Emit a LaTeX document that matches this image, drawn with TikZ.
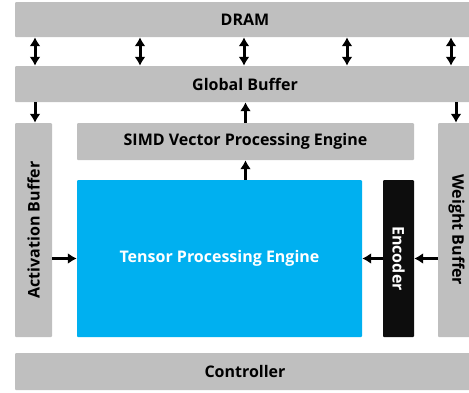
\documentclass[tikz,border=0pt]{standalone}
\usepackage{fontspec}
\setmainfont{Open Sans}
\usetikzlibrary{arrows.meta}
\definecolor{boxgray}{HTML}{BFBFBF}
\definecolor{tpecyan}{HTML}{00B0F0}
\definecolor{encblack}{HTML}{0D0D0D}
\tikzstyle{unit} = [fill=boxgray, rectangle, rounded corners=1pt, inner sep=0pt, font=\fontsize{16}{18}\selectfont\bfseries, text=black]
\tikzstyle{flow} = [line width=3pt, -{Latex[length=9pt,width=11pt]}]
\tikzstyle{bothway} = [line width=3pt, {Latex[length=9pt,width=11pt]}-{Latex[length=9pt,width=11pt]}]

\begin{document}
\begin{tikzpicture}[x=1pt, y=-1pt]
	\useasboundingbox (0,0) rectangle (469,392);
	\node [unit, minimum width=460pt, minimum height=35pt] (dram) at (245,19.5) {DRAM};
	\node [unit, minimum width=460pt, minimum height=36pt] (gbuf) at (245,84) {Global Buffer};
	\node [unit, minimum width=37pt, minimum height=214pt] (abuf) at (33.5,230) {\rotatebox{90}{Activation Buffer}};
	\node [unit, minimum width=337pt, minimum height=37pt] (simd) at (245.5,141.5) {SIMD Vector Processing Engine};
	\node [unit, fill=tpecyan, text=white, minimum width=285pt, minimum height=157pt] (tpe) at (219.5,258.5) {Tensor Processing Engine};
	\node [unit, fill=encblack, text=white, minimum width=31pt, minimum height=157pt] (enc) at (398.5,258.5) {\rotatebox{-90}{Encoder}};
	\node [unit, minimum width=37pt, minimum height=214pt] (wbuf) at (456.5,230) {\rotatebox{-90}{Weight Buffer}};
	\node [unit, minimum width=460pt, minimum height=37pt] (ctrl) at (245,371.5) {Controller};
	% DRAM <-> global buffer
	\foreach \xx in {35,140,244,347,451}
		\draw [bothway] (\xx,0 |- dram.south) -- (\xx,0 |- gbuf.north);
	% buffers
	\draw [flow] (35,0 |- gbuf.south) -- (35,0 |- abuf.north);
	\draw [flow] (456,0 |- gbuf.south) -- (456,0 |- wbuf.north);
	\draw [flow] (simd.north) -- (simd.north |- gbuf.south);
	\draw [flow] (tpe.north -| simd.south) -- (simd.south);
	\draw [flow] (abuf.east |- tpe.west) -- (tpe.west);
	\draw [flow] (enc.west) -- (tpe.east);
	\draw [flow] (wbuf.west |- enc.east) -- (enc.east);
\end{tikzpicture}
\end{document}
